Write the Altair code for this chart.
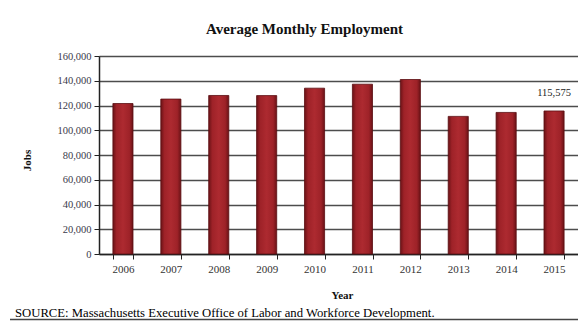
import altair as alt
import pandas as pd

years = ["2006", "2007", "2008", "2009", "2010", "2011", "2012", "2013", "2014", "2015"]
jobs = [121600, 125200, 128100, 128000, 134000, 137200, 141000, 111200, 114400, 115575]
y_ticks = [0, 20000, 40000, 60000, 80000, 100000, 120000, 140000, 160000]
title_text = "Average Monthly Employment"
source_text = "SOURCE: Massachusetts Executive Office of Labor and Workforce Development."
label_year = "2015"
label_text = "115,575"

df = pd.DataFrame({"Year": years, "Jobs": jobs})
lab = pd.DataFrame({"Year": [label_year], "Jobs": [jobs[years.index(label_year)]], "t": [label_text]})
src = pd.DataFrame({"t": [source_text]})

FONT = "Liberation Serif"

x = alt.X("Year:N", sort=years, title="Year",
          scale=alt.Scale(paddingInner=0.58, paddingOuter=0.29),
          axis=alt.Axis(labelAngle=0, tickBand="extent", tickSize=5,
                        labelPadding=4, labelFont=FONT, labelFontSize=11, labelColor="#333",
                        domainColor="#222", tickColor="#222", domainWidth=1.5,
                        titleFont=FONT, titleFontSize=11, titleFontWeight="bold",
                        titleX=243, titleY=41, titleBaseline="middle", titleColor="#111"))
y = alt.Y("Jobs:Q", title="Jobs",
          scale=alt.Scale(domain=[0, 160000], nice=False),
          axis=alt.Axis(values=y_ticks, format=",d", tickSize=5, labelPadding=3,
                        labelOverlap=False,
                        labelFont=FONT, labelFontSize=10.5, labelColor="#3a3a4a",
                        domainColor="#222", tickColor="#222", domainWidth=1.5,
                        grid=True, gridColor="#4d4d4d", gridWidth=1.5,
                        titleFont=FONT, titleFontSize=11, titleFontWeight="bold",
                        titleX=-72, titleY=104, titleAngle=-90, titleBaseline="middle",
                        titleColor="#111"))

grad = alt.Gradient(gradient="linear", x1=0, x2=1, y1=0, y2=0,
                    stops=[alt.GradientStop(color="#6a1216", offset=0),
                           alt.GradientStop(color="#9e2228", offset=0.18),
                           alt.GradientStop(color="#ad2a30", offset=0.5),
                           alt.GradientStop(color="#9e2228", offset=0.82),
                           alt.GradientStop(color="#6a1216", offset=1)])

bars = alt.Chart(df).mark_bar(color=grad, stroke="#5a0e12", strokeWidth=0.8).encode(x=x, y=y)

label = alt.Chart(lab).mark_text(font=FONT, fontSize=10.5, color="#222", dy=-18,
                                 baseline="middle").encode(x=x, y=y, text="t:N")

source = alt.Chart(src).mark_text(font=FONT, fontSize=12.7, color="#000", align="left",
                                  baseline="middle").encode(
    x=alt.value(-84), y=alt.value(256.5), text="t:N")

rule = alt.Chart(src).mark_rule(color="#444", strokeWidth=1.5).encode(
    x=alt.value(-89), x2=alt.value(479), y=alt.value(263.5))

chart = alt.layer(bars, label, source, rule).properties(
    width=479, height=198,
    autosize=alt.AutoSizeParams(type="none"),
    padding={"left": 91, "top": 48, "right": 0, "bottom": 68},
    title=alt.TitleParams(title_text, font=FONT, fontSize=15, fontWeight="bold",
                          color="#111", anchor="middle", dx=-34, offset=14),
).configure_view(stroke="#4d4d4d", strokeWidth=1.5).configure(background="white")

chart.save("out.html", embed_options={"renderer": "svg", "actions": False})
